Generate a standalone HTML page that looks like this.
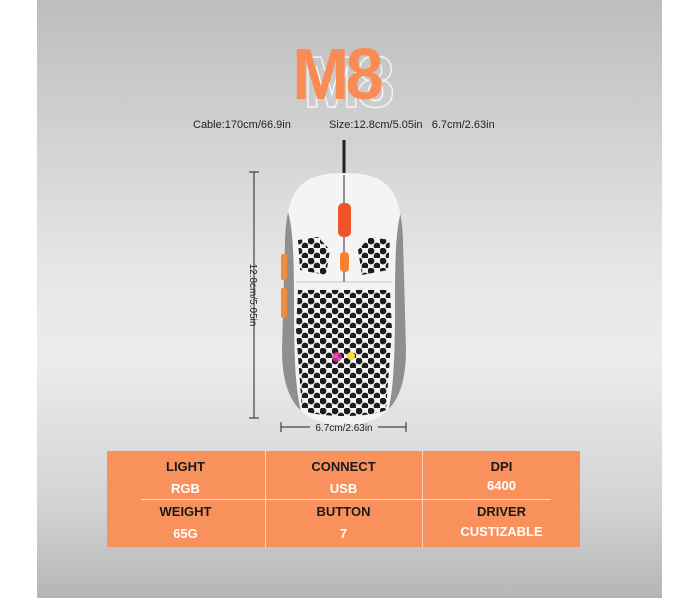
<!DOCTYPE html>
<html><head><style>
body{margin:0;width:700px;height:600px;background:#fff;position:relative;overflow:hidden;font-family:"Liberation Sans",sans-serif}
#panel{position:absolute;left:37px;top:0;width:625px;height:598px;background:linear-gradient(#bdbdbd 0%,#e6e6e6 45%,#ececec 60%,#d2d2d2 85%,#b5b5b5 100%)}
.t{position:absolute;font-size:11px;color:#222}
#tbl{position:absolute;left:107px;top:451px;width:473px;height:96px;background:#f9915c}
.c{position:absolute;width:157px;text-align:center;font-weight:bold;font-size:13px;line-height:20px}
.k{color:#1a1a1a}.v{color:#fff}
</style></head><body>
<div id="panel"></div>
<div style="position:absolute;left:301px;top:42px;font:900 72px 'Liberation Sans',sans-serif;color:transparent;-webkit-text-stroke:1.5px #f4f4f4;letter-spacing:-4px;transform:scaleX(0.95)">M8</div>
<div style="position:absolute;left:290px;top:34px;font:900 72px 'Liberation Sans',sans-serif;color:#f98c55;letter-spacing:-4px;transform:scaleX(0.95)">M8</div>
<div class="t" style="left:193px;top:119px">Cable:170cm/66.9in</div>
<div class="t" style="left:329px;top:119px">Size:12.8cm/5.05in&nbsp;&nbsp;&nbsp;6.7cm/2.63in</div>
<svg style="position:absolute;left:0;top:0" width="700" height="600">
<defs>
<pattern id="hx" width="12" height="10" patternUnits="userSpaceOnUse" x="296" y="288">
<circle cx="3" cy="3" r="3.4" fill="#1c1c1c"/><circle cx="9" cy="8" r="3.4" fill="#1c1c1c"/>
</pattern>
<clipPath id="bd"><path d="M344 173 C300 173 287 190 285 240 L282 350 C282 405 305 425 344 425 C383 425 406 405 406 350 L403 240 C401 190 388 173 344 173Z"/></clipPath>
<clipPath id="hole"><path d="M298 290 L390 290 L392 330 L386 410 C370 418 318 418 302 410 L296 330Z"/></clipPath>
</defs>
<line x1="344" y1="140" x2="344" y2="178" stroke="#222" stroke-width="3"/>
<path d="M344 173 C300 173 287 190 285 240 L282 350 C282 405 305 425 344 425 C383 425 406 405 406 350 L403 240 C401 190 388 173 344 173Z" fill="#f4f4f4"/>
<g clip-path="url(#bd)">
<path d="M280 195 C292 210 294 240 294 300 C294 370 296 400 305 425 L280 425Z" fill="#8f8f8f"/>
<path d="M409 195 C397 210 395 240 395 300 C395 370 393 400 384 425 L409 425Z" fill="#8f8f8f"/>
<rect x="290" y="285" width="110" height="135" fill="url(#hx)" clip-path="url(#hole)"/>
<path d="M298 240 L318 237 L330 250 L326 275 L300 270Z" fill="url(#hx)"/>
<path d="M390 240 L370 237 L358 250 L362 275 L388 270Z" fill="url(#hx)"/>
</g>
<line x1="296" y1="282" x2="392" y2="282" stroke="#ccc"/>
<line x1="344" y1="175" x2="344" y2="282" stroke="#333"/>
<rect x="338" y="203" width="13" height="34" rx="5" fill="#f0552a"/>
<rect x="340" y="252" width="9" height="20" rx="4" fill="#f5822e"/>
<rect x="281" y="254" width="6" height="26" rx="2" fill="#f08c3c"/>
<rect x="281" y="288" width="6" height="30" rx="2" fill="#f08c3c"/>
<circle cx="337" cy="357" r="5" fill="#e0309a" opacity=".8"/><circle cx="351" cy="356" r="4" fill="#f0e040"/>
<g stroke="#222" stroke-width="1">
<line x1="254" y1="172" x2="254" y2="418"/><line x1="249" y1="172" x2="259" y2="172"/><line x1="249" y1="418" x2="259" y2="418"/>
<line x1="281" y1="427" x2="310" y2="427"/><line x1="378" y1="427" x2="406" y2="427"/>
<line x1="281" y1="422" x2="281" y2="432"/><line x1="406" y1="422" x2="406" y2="432"/>
</g>
<text x="344" y="431" font-size="10" text-anchor="middle" fill="#222" font-family="Liberation Sans">6.7cm/2.63in</text>
<text transform="translate(250,295) rotate(90)" font-size="10" text-anchor="middle" fill="#222" font-family="Liberation Sans">12.8cm/5.05in</text>
</svg>
<div id="tbl">
<div style="position:absolute;left:158px;top:0;width:1px;height:96px;background:#fbd5bf"></div>
<div style="position:absolute;left:315px;top:0;width:1px;height:96px;background:#fbd5bf"></div>
<div style="position:absolute;left:34px;top:48px;width:410px;height:1px;background:#fcd9c4"></div>
<div class="c k" style="left:0;top:6px">LIGHT</div><div class="c v" style="left:0;top:28px">RGB</div>
<div class="c k" style="left:158px;top:6px">CONNECT</div><div class="c v" style="left:158px;top:28px">USB</div>
<div class="c k" style="left:316px;top:6px">DPI</div><div class="c v" style="left:316px;top:25px">6400</div>
<div class="c k" style="left:0;top:51px">WEIGHT</div><div class="c v" style="left:0;top:73px">65G</div>
<div class="c k" style="left:158px;top:51px">BUTTON</div><div class="c v" style="left:158px;top:73px">7</div>
<div class="c k" style="left:316px;top:51px">DRIVER</div><div class="c v" style="left:316px;top:71px">CUSTIZABLE</div>
</div>
</body></html>
